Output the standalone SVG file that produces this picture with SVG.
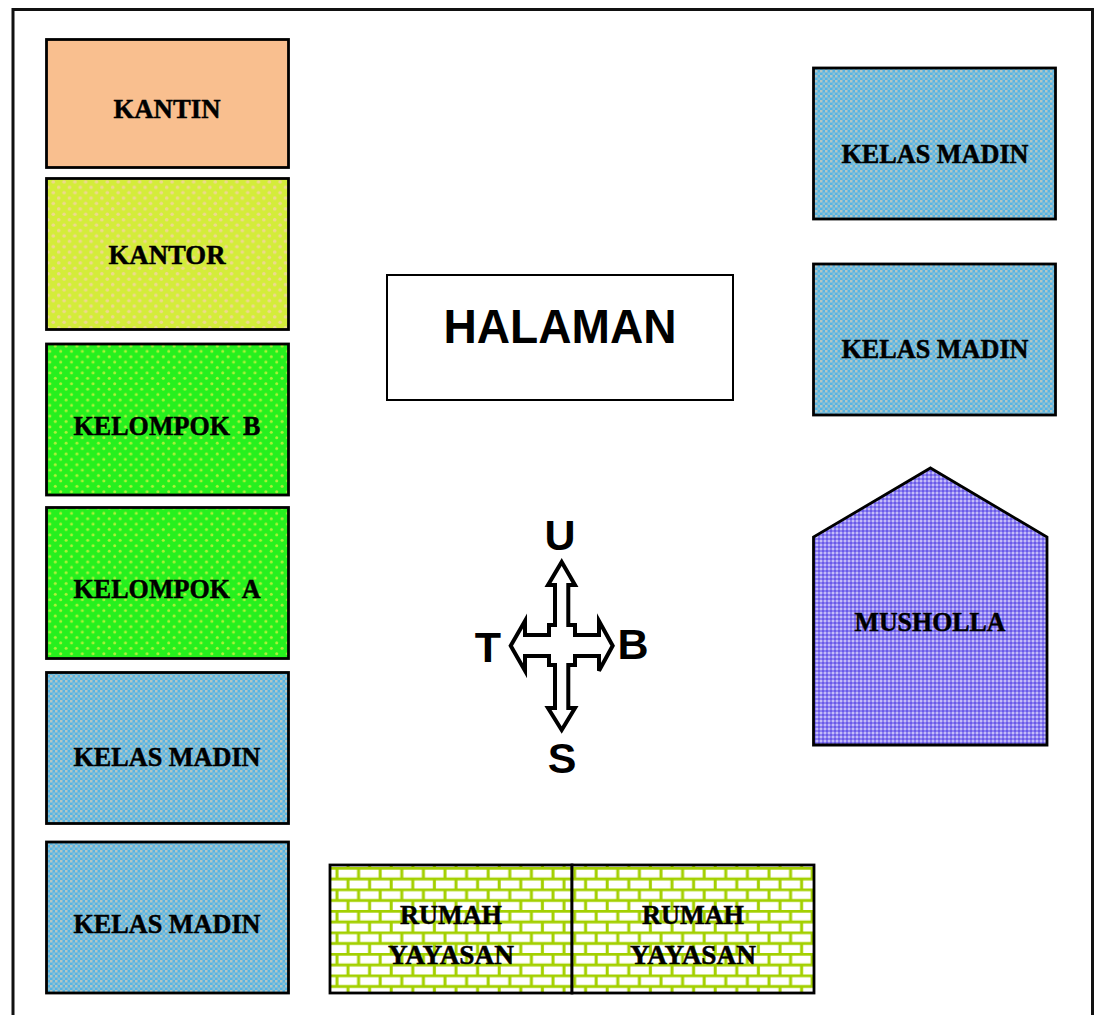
<svg xmlns="http://www.w3.org/2000/svg" width="1094" height="1015" viewBox="0 0 1094 1015">
<style>
.b{stroke:#000;stroke-width:2.800}
.c{font:bold 28px "Liberation Serif",serif;fill:#000;stroke:#000;stroke-width:.5;text-anchor:middle;white-space:pre}
.s{font:bold 43px "Liberation Sans",sans-serif;fill:#000;text-anchor:middle}
</style>
<defs>
<pattern id="pk" width="10.8" height="10.8" patternUnits="userSpaceOnUse" x="2" y="1">
<rect width="10.8" height="10.8" fill="#d4ec3a"/>
<circle cx="2.7" cy="2.7" r="1.800" fill="#eed890"/><circle cx="8.1" cy="8.1" r="1.800" fill="#eed890"/>
</pattern>
<pattern id="pg" width="10.8" height="10.8" patternUnits="userSpaceOnUse" x="4" y="3">
<rect width="10.8" height="10.8" fill="#26f01e"/>
<circle cx="2.7" cy="2.7" r="1.500" fill="#b0f03a"/><circle cx="8.1" cy="8.1" r="1.500" fill="#b0f03a"/>
</pattern>
<pattern id="pb" width="5" height="5" patternUnits="userSpaceOnUse">
<rect width="5" height="5" fill="#56b4e4"/>
<rect x="0" y="0" width="2.5" height="2.5" fill="#b4c6c4"/><rect x="2.5" y="2.5" width="2.5" height="2.5" fill="#90c0d0"/>
</pattern>
<pattern id="pu" width="4" height="4" patternUnits="userSpaceOnUse">
<rect width="4" height="4" fill="#8c80f0"/>
<rect x="0" y="0" width="2" height="2" fill="#c4bcf8"/><rect x="2" y="2" width="2" height="2" fill="#6a5ae8"/>
</pattern>
<pattern id="pr" width="21.6" height="21.5" patternUnits="userSpaceOnUse" x="331" y="867">
<rect width="21.6" height="21.5" fill="#fff"/>
<path d="M0 1.2H21.6M0 11.9H21.6M6 1.2V11.9M17 11.9V21.5" stroke="#a3d000" stroke-width="3" fill="none"/>
</pattern>
</defs>
<path id="frame" d="M13 1015V9.500H1092.500V1015" fill="none" stroke="#111" stroke-width="3"/>
<g id="kantin"><rect class="b" x="46.500" y="39.500" width="242" height="128" fill="#f9bf8f"/><text class="c" x="167" y="118" textLength="107" lengthAdjust="spacingAndGlyphs">KANTIN</text></g>
<g id="kantor"><rect class="b" x="46.500" y="178.500" width="242" height="151" fill="url(#pk)"/><text class="c" x="167" y="264" textLength="117" lengthAdjust="spacingAndGlyphs">KANTOR</text></g>
<g id="kelompok-b"><rect class="b" x="46.500" y="344" width="242" height="151" fill="url(#pg)"/><text class="c" x="167" y="435" textLength="187" lengthAdjust="spacingAndGlyphs">KELOMPOK  B</text></g>
<g id="kelompok-a"><rect class="b" x="46.500" y="507.500" width="242" height="151" fill="url(#pg)"/><text class="c" x="167" y="598" textLength="187" lengthAdjust="spacingAndGlyphs">KELOMPOK  A</text></g>
<g id="kelas-1"><rect class="b" x="46.500" y="672.500" width="242" height="151" fill="url(#pb)"/><text class="c" x="167" y="766" textLength="187" lengthAdjust="spacingAndGlyphs">KELAS MADIN</text></g>
<g id="kelas-2"><rect class="b" x="46.500" y="842" width="242" height="151" fill="url(#pb)"/><text class="c" x="167" y="933" textLength="187" lengthAdjust="spacingAndGlyphs">KELAS MADIN</text></g>
<g id="kelas-3"><rect class="b" x="813.500" y="68" width="242" height="151" fill="url(#pb)"/><text class="c" x="935" y="163" textLength="187" lengthAdjust="spacingAndGlyphs">KELAS MADIN</text></g>
<g id="kelas-4"><rect class="b" x="813.500" y="264" width="242" height="151" fill="url(#pb)"/><text class="c" x="935" y="358" textLength="187" lengthAdjust="spacingAndGlyphs">KELAS MADIN</text></g>
<g id="halaman"><rect x="387" y="275" width="346" height="125" fill="#fff" stroke="#000" stroke-width="2"/><text x="560" y="343" font-family="Liberation Sans, sans-serif" font-weight="bold" font-size="48" text-anchor="middle" textLength="233" lengthAdjust="spacingAndGlyphs">HALAMAN</text></g>
<g id="musholla"><path class="b" d="M930.500 468L1047 537V745H813.500V537Z" fill="url(#pu)"/><text class="c" x="930" y="631" textLength="151" lengthAdjust="spacingAndGlyphs">MUSHOLLA</text></g>
<g id="rumah-1"><rect class="b" x="330" y="865" width="242" height="128" fill="url(#pr)"/><text class="c" x="451" y="924" textLength="102" lengthAdjust="spacingAndGlyphs">RUMAH</text><text class="c" x="451" y="964" textLength="126" lengthAdjust="spacingAndGlyphs">YAYASAN</text></g>
<g id="rumah-2"><rect class="b" x="572" y="865" width="242" height="128" fill="url(#pr)"/><text class="c" x="693" y="924" textLength="102" lengthAdjust="spacingAndGlyphs">RUMAH</text><text class="c" x="693" y="964" textLength="126" lengthAdjust="spacingAndGlyphs">YAYASAN</text></g>
<g id="compass">
<path d="M561.700 562L575 585H568.300V625H575V635H599V621L612.700 645.700L599 670.700V656H575V665H568.300V708H575L561.700 730L548 708H555V665H549V656H525V670.700L510.700 645.700L525 621V635H549V625H555V585H548Z" fill="#fff" stroke="#000" stroke-width="4"/>
<text class="s" x="560" y="550">U</text><text class="s" x="488" y="662">T</text><text class="s" x="633" y="659">B</text><text class="s" x="562" y="773">S</text>
</g>
</svg>
